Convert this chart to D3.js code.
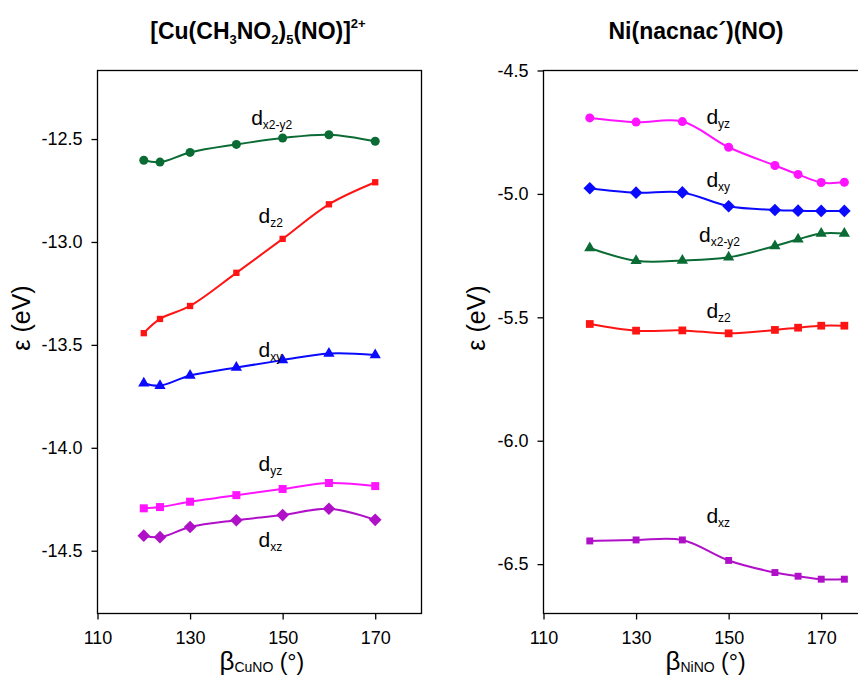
<!DOCTYPE html>
<html>
<head>
<meta charset="utf-8">
<script src="https://cdn.jsdelivr.net/npm/d3@7"></script>
<style>
  body { margin: 0; background: #fff; }
  svg { font-family: "Liberation Sans", Arial, sans-serif; }
  .axis text { font-size: 18px; fill: #000; }
  .axis path, .axis line { stroke: #000; stroke-width: 1.3; }
</style>
</head>
<body>
<div id="chart"></div>
<script>
// left panel: [Cu(CH3NO2)5(NO)]2+
const cuAngles = [120, 123.5, 130, 140, 150, 160, 170];
const cuDx2y2 = [-12.603, -12.612, -12.565, -12.526, -12.495, -12.479, -12.511];
const cuDz2 = [-13.443, -13.374, -13.311, -13.150, -12.985, -12.817, -12.710];
const cuDxy = [-13.686, -13.698, -13.649, -13.610, -13.574, -13.542, -13.549];
const cuDyz = [-14.294, -14.288, -14.262, -14.230, -14.200, -14.171, -14.186];
const cuDxz = [-14.427, -14.434, -14.385, -14.352, -14.327, -14.296, -14.350];

// right panel: Ni(nacnac')(NO)
const niAngles = [120, 130, 140, 150, 160, 165, 170, 175];
const niDyz = [-4.692, -4.709, -4.707, -4.811, -4.885, -4.921, -4.954, -4.953];
const niDxy = [-4.977, -4.995, -4.994, -5.050, -5.065, -5.068, -5.069, -5.069];
const niDx2y2 = [-5.219, -5.271, -5.270, -5.257, -5.211, -5.184, -5.160, -5.160];
const niDz2 = [-5.527, -5.554, -5.553, -5.565, -5.551, -5.542, -5.534, -5.534];
const niDxz = [-6.406, -6.402, -6.402, -6.485, -6.534, -6.549, -6.561, -6.561];

const xTicks = [110, 130, 150, 170];
const cuYTicks = [-12.5, -13.0, -13.5, -14.0, -14.5];
const niYTicks = [-4.5, -5.0, -5.5, -6.0, -6.5];

// orbital labels: text subscript, anchored in data units
const cuLabels = [
  { sub: "x2-y2", x: 143.2, y: -12.432 },
  { sub: "z2", x: 144.8, y: -12.909 },
  { sub: "xy", x: 144.8, y: -13.557 },
  { sub: "yz", x: 144.8, y: -14.112 },
  { sub: "xz", x: 144.8, y: -14.481 },
];
const niLabels = [
  { sub: "yz", x: 145.2, y: -4.717 },
  { sub: "xy", x: 145.2, y: -4.973 },
  { sub: "x2-y2", x: 143.6, y: -5.196 },
  { sub: "z2", x: 145.2, y: -5.504 },
  { sub: "xz", x: 145.2, y: -6.335 },
];

const green = "#0b6b35", red = "#ff1414", blue = "#0a0aff",
      magenta = "#ff14ff", purple = "#b010c8";

const width = 858, height = 680;
const plotTop = 70.5, plotBottom = 613.5, panelW = 324;

const svg = d3.select("#chart").append("svg")
  .attr("width", width).attr("height", height);

// diamond = square turned by 45 degrees
const diamond = {
  draw(ctx, size) {
    const r = Math.sqrt(size / 2);
    ctx.moveTo(0, -r); ctx.lineTo(r, 0); ctx.lineTo(0, r); ctx.lineTo(-r, 0); ctx.closePath();
  }
};

function drawPanel(opts) {
  const x = d3.scaleLinear().domain([110, 180]).range([opts.left, opts.left + panelW]);
  const y = d3.scaleLinear().domain(opts.yDomain).range([plotBottom, plotTop]);
  const g = svg.append("g");

  g.append("rect")
    .attr("x", opts.left).attr("y", plotTop)
    .attr("width", panelW).attr("height", plotBottom - plotTop)
    .attr("fill", "none").attr("stroke", "#000").attr("stroke-width", 1.3);

  g.append("g").attr("class", "axis")
    .attr("transform", `translate(0,${plotBottom})`)
    .call(d3.axisBottom(x).tickValues(xTicks).tickSize(6).tickPadding(12).tickSizeOuter(0))
    .call(a => a.select(".domain").remove());

  g.append("g").attr("class", "axis")
    .attr("transform", `translate(${opts.left},0)`)
    .call(d3.axisLeft(y).tickValues(opts.yTicks).tickSize(6).tickPadding(9).tickSizeOuter(0))
    .call(a => a.select(".domain").remove())
    .selectAll("text").text(d => d3.format(".1f")(d).replace("−", "-"));

  const line = d3.line().curve(d3.curveCatmullRom.alpha(0.5))
    .x(d => x(d[0])).y(d => y(d[1]));

  opts.series.forEach(s => {
    const pts = opts.angles.map((a, i) => [a, s.values[i]]);
    g.append("path").datum(pts)
      .attr("d", line).attr("fill", "none")
      .attr("stroke", s.color).attr("stroke-width", 2);
    g.selectAll(null).data(pts).enter().append("path")
      .attr("transform", d => `translate(${x(d[0])},${y(d[1])})`)
      .attr("d", d3.symbol().type(s.symbol).size(s.size))
      .attr("fill", s.color);
  });

  opts.labels.forEach(l => {
    const t = g.append("text")
      .attr("x", x(l.x)).attr("y", y(l.y))
      .attr("font-size", 21);
    t.append("tspan").text("d");
    t.append("tspan").attr("font-size", 12).attr("dy", 4).text(l.sub);
  });

  // title
  const title = svg.append("text")
    .attr("x", opts.titleX).attr("y", 39)
    .attr("text-anchor", "middle")
    .attr("font-size", 23).attr("font-weight", "bold");
  opts.title.forEach(p => {
    title.append("tspan")
      .attr("font-size", p.size || 23)
      .attr("dy", p.dy || 0)
      .text(p.t);
  });

  // y label
  svg.append("text")
    .attr("transform", `translate(${opts.yLabelX},${318}) rotate(-90)`)
    .attr("text-anchor", "middle").attr("font-size", 25)
    .text("ε (eV)");

  // x label
  const xl = svg.append("text")
    .attr("x", x(opts.xLabelAt)).attr("y", 670)
    .attr("text-anchor", "middle").attr("font-size", 23);
  xl.append("tspan").attr("font-size", 26).text("β");
  xl.append("tspan").attr("font-size", 14).attr("dy", 2).text(opts.xSub);
  xl.append("tspan").attr("dy", -2).text(" (°)");
}

drawPanel({
  left: 97.5,
  yDomain: [-14.805, -12.167],
  yTicks: cuYTicks,
  angles: cuAngles,
  series: [
    { values: cuDx2y2, color: green, symbol: d3.symbolCircle, size: 64 },
    { values: cuDz2, color: red, symbol: d3.symbolSquare, size: 40 },
    { values: cuDxy, color: blue, symbol: d3.symbolTriangle, size: 55 },
    { values: cuDyz, color: magenta, symbol: d3.symbolSquare, size: 64 },
    { values: cuDxz, color: purple, symbol: diamond, size: 80 },
  ],
  labels: cuLabels,
  titleX: 258,
  title: [
    { t: "[Cu(CH" }, { t: "3", size: 13, dy: 5 }, { t: "NO", dy: -5 },
    { t: "2", size: 13, dy: 5 }, { t: ")", dy: -5 }, { t: "5", size: 13, dy: 5 },
    { t: "(NO)]", dy: -5 }, { t: "2+", size: 13, dy: -11 },
  ],
  yLabelX: 30,
  xLabelAt: 145.5,
  xSub: "CuNO",
});

drawPanel({
  left: 543.5,
  yDomain: [-6.7, -4.5],
  yTicks: niYTicks,
  angles: niAngles,
  series: [
    { values: niDyz, color: magenta, symbol: d3.symbolCircle, size: 64 },
    { values: niDxy, color: blue, symbol: diamond, size: 80 },
    { values: niDx2y2, color: green, symbol: d3.symbolTriangle, size: 55 },
    { values: niDz2, color: red, symbol: d3.symbolSquare, size: 60 },
    { values: niDxz, color: purple, symbol: d3.symbolSquare, size: 48 },
  ],
  labels: niLabels,
  titleX: 696,
  title: [{ t: "Ni(nacnac´)(NO)" }],
  yLabelX: 485,
  xLabelAt: 145,
  xSub: "NiNO",
});
</script>
</body>
</html>
